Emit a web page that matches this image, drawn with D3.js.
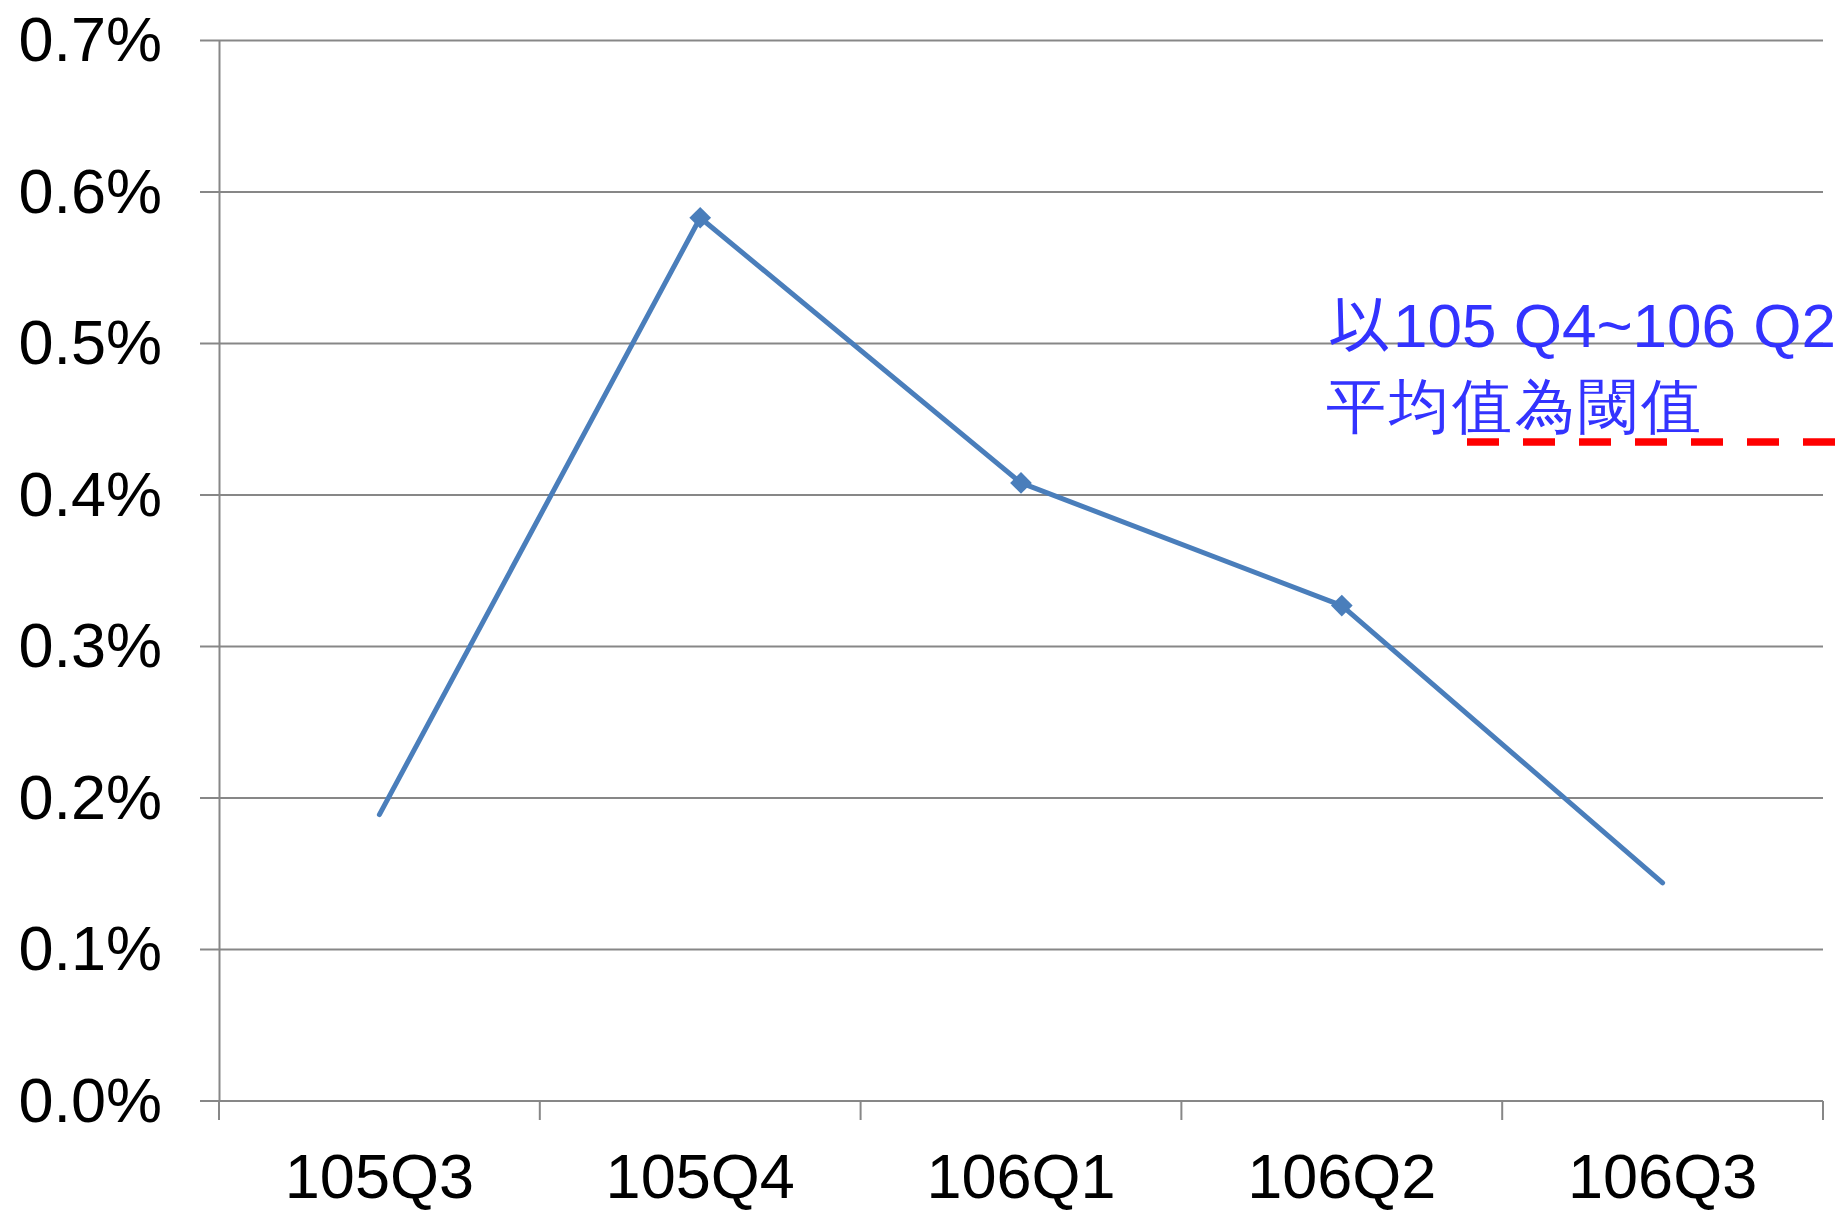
<!DOCTYPE html>
<html>
<head>
<meta charset="utf-8">
<script src="https://cdn.jsdelivr.net/npm/d3@7"></script>
<style>
  body { margin: 0; background: #fff; }
  text { font-family: "Liberation Sans", Arial, sans-serif; }
</style>
</head>
<body>
<svg id="chart"></svg>
<script>
// data (values in %)
const categories = ["105Q3", "105Q4", "106Q1", "106Q2", "106Q3"];
const values = [0.189, 0.583, 0.408, 0.327, 0.144];
const markedCats = ["105Q4", "106Q1", "106Q2"];
const yTicks = [0, 0.1, 0.2, 0.3, 0.4, 0.5, 0.6, 0.7];
const threshold = 0.435;
const noteLines = ["以105 Q4~106 Q2", "平均值為閾值"];

const W = 1845, H = 1210;
const margin = { top: 40.5, right: 22, bottom: 109, left: 219 };

const svg = d3.select("#chart").attr("width", W).attr("height", H);

const x = d3.scaleBand().domain(categories)
  .range([margin.left, W - margin.right]);
const y = d3.scaleLinear().domain([0, 0.7])
  .range([H - margin.bottom, margin.top]);

const gridColor = "#878787";

// gridlines
svg.append("g")
  .selectAll("line")
  .data(yTicks)
  .enter()
  .append("line")
  .attr("x1", margin.left - 19)
  .attr("x2", W - margin.right)
  .attr("y1", (d) => y(d))
  .attr("y2", (d) => y(d))
  .attr("stroke", gridColor)
  .attr("stroke-width", 2);

// y axis
const yAxis = d3.axisLeft(y).tickValues(yTicks).tickSize(0).tickPadding(57)
  .tickFormat((d) => d.toFixed(1) + "%");
const yAxisG = svg.append("g").attr("transform", `translate(${margin.left},0)`).call(yAxis);
yAxisG.select(".domain").attr("stroke", gridColor).attr("stroke-width", 2);
yAxisG.selectAll("text").attr("font-size", 63).attr("fill", "#000")
  .attr("font-family", "Liberation Sans, Arial, sans-serif");

// x axis
const xAxis = d3.axisBottom(x).tickSize(0).tickPadding(52);
const xAxisG = svg.append("g").attr("transform", `translate(0,${y(0)})`).call(xAxis);
xAxisG.select(".domain").remove();
xAxisG.selectAll("text").attr("font-size", 63).attr("fill", "#000")
  .attr("font-family", "Liberation Sans, Arial, sans-serif");

// category boundary ticks
const bounds = categories.map((c) => x(c)).concat([x.range()[1]]);
xAxisG.selectAll(".bound")
  .data(bounds)
  .enter()
  .append("line")
  .attr("class", "bound")
  .attr("x1", (d) => d)
  .attr("x2", (d) => d)
  .attr("y1", 0)
  .attr("y2", 19)
  .attr("stroke", gridColor)
  .attr("stroke-width", 2);

// series line
const pts = categories.map((c, i) => ({ cat: c, v: values[i] }));
const line = d3.line()
  .x((d) => x(d.cat) + x.bandwidth() / 2)
  .y((d) => y(d.v));

svg.append("path")
  .datum(pts)
  .attr("d", line)
  .attr("fill", "none")
  .attr("stroke", "#4A7EBB")
  .attr("stroke-width", 5)
  .attr("stroke-linecap", "round")
  .attr("stroke-linejoin", "round");

svg.append("g")
  .selectAll("path")
  .data(pts.filter((d) => markedCats.includes(d.cat)))
  .enter()
  .append("path")
  .attr("d", d3.symbol().type(d3.symbolDiamond2).size(300))
  .attr("transform", (d) => `translate(${x(d.cat) + x.bandwidth() / 2},${y(d.v)})`)
  .attr("fill", "#4A7EBB");

// threshold dashed line
svg.append("line")
  .attr("x1", 1467)
  .attr("x2", W)
  .attr("y1", y(threshold))
  .attr("y2", y(threshold))
  .attr("stroke", "#FF0000")
  .attr("stroke-width", 7.5)
  .attr("stroke-dasharray", "32 24");

// note text
const note = svg.append("g").attr("fill", "#3333FF");
note.append("text")
  .attr("x", 1328)
  .attr("y", 347)
  .attr("font-size", 62)
  .selectAll("tspan")
  .data([[noteLines[0].slice(0, 1), "Noto Sans CJK TC"], [noteLines[0].slice(1), "Liberation Sans"]])
  .enter()
  .append("tspan")
  .attr("font-family", (d) => d[1])
  .attr("dx", (d, i) => (i ? 3 : 0))
  .text((d) => d[0]);
note.append("text")
  .attr("x", 1326)
  .attr("y", 427)
  .attr("font-size", 60)
  .attr("font-family", "Noto Sans CJK TC")
  .attr("letter-spacing", 3)
  .text(noteLines[1]);
</script>
</body>
</html>
